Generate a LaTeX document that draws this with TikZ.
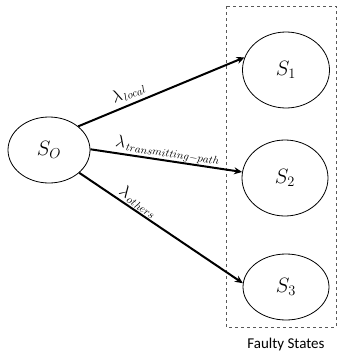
\documentclass[tikz,border=0pt]{standalone}
\usepackage{fontspec}
\newfontfamily\labelfont{Carlito}
\usetikzlibrary{arrows.meta,shapes.geometric}
\begin{document}
\begin{tikzpicture}[x=1pt,y=-1pt,
  st/.style={draw, ellipse, line width=0.8pt, minimum width=84pt, minimum height=72pt, inner sep=0pt, font=\fontsize{22}{24}\selectfont},
  arr/.style={line width=2pt, -{Stealth[length=8pt,width=7pt]}},
  lab/.style={sloped, above, font=\fontsize{16}{18}\selectfont, inner sep=1pt}]
\useasboundingbox (0,0) rectangle (340,356);
\node[st, minimum width=82pt, minimum height=66pt] (s0) at (49,150) {$S_O$};
\node[st, minimum width=87pt, minimum height=76pt] (s1) at (286,70) {$S_1$};
\node[st, minimum width=86pt, minimum height=76pt] (s2) at (285,178) {$S_2$};
\node[st, minimum width=86pt, minimum height=66pt] (s3) at (286,287) {$S_3$};
\draw[dashed, line width=0.5pt, gray!70!black] (226,6) rectangle (336,327);
\node[font=\labelfont\fontsize{15}{17}\selectfont] (fs) at (286,344) {Faulty States};
\draw[arr] (s0.39) -- node[lab, pos=0.33, inner sep=4pt] {$\lambda_{\mkern2mu local}$} (s1.163);
\draw[arr] (s0.1) -- node[lab, pos=0.5, inner sep=0.5pt] {$\lambda_{\mkern2mu transmitting-path}$} (s2.172);
\draw[arr] (s0.-37) -- node[lab, pos=0.33] {$\lambda_{\mkern2mu others}$} (s3.175);
\end{tikzpicture}
\end{document}
